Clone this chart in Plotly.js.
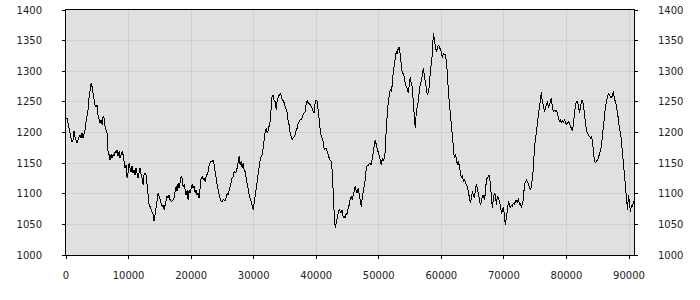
<!DOCTYPE html>
<html>
<head>
<meta charset="utf-8">
<script src="https://cdn.plot.ly/plotly-3.0.1.min.js"></script>
<style>html,body{margin:0;padding:0;background:#fff;}#chart{width:700px;height:300px;}
#chart .scatterlayer path{shape-rendering:crispEdges;}
</style>
</head>
<body>
<div id="chart"></div>
<script>
// Sample spacing along x (data units)
const xStart = 0;
const xStep = 160;

// Series values, in order, left to right
const seg1 = [1224,1223,1215,1207,1199,1191,1184,1188,1202,1193,1188,1183,1188,1193,1196,1191,1199,1191,1199,1204,1218,1226,1237,1256,1275,1280,1275,1264,1251,1245,1242,1245,1229,1218,1215,1221,1213,1226,1223,1210,1204,1199,1169,
  1164,1155,1164,1158,1164,1161,1169,1166,1172,1161,1169,1158,1164,1169,1164,1153,1142,1147,1126,1134,1150,1142,1136,1145,1134,1139,1131,1142,1136,1126,1134,1142,1131,1126,1115,1131,1134,1131,1115,1098,1082,1079,1074,1071,1066,1055,1068,1074,1088,1101,1096,1088,1085,1079,1082,1074,1082,1085,1096,1093,1098,1090,1088,1088,1090];
const seg2 = [1093,1104,1112,1104,1117,1109,1120,1128,1126,1112,
  1115,1104,1098,1106,1090,1106,1101,1109,1115,1109,
  1112,1101,1106,1098,1101,1093,1106,1126,1128,1123,
  1126,1120,1128,1134,1136,1147,1150,1153,1153,1155,
  1147,1139,1126,1115,1104,1098,1093,1087,1087,1090,
  1090,1089,1093,1101,1098,1106,1112,1123,1126,1128,
  1136,1134,1136,1142,1155,1161,1147,1153,1142,1150,
  1139,1136,1126,1115,1104,1098,1093,1085,1082,1074,
  1085,1098,1109,1120,1131,1142,1155,1161,1164,1174,
  1191,1202,1207,1199,1204,1213,1218,1240,1261,1261,
  1251,1251,1237,1253,1259,1261,1264,1261,1253,1253,
  1248,1242,1237,1232,1218];
const seg3 = [1212,1199,1194,1188,1191,1194,1196,1204,1207,1215,
  1218,1221,1221,1226,1229,1232,1234,1248,1253,1248,
  1248,1245,1242,1240,1234,1232,1251,1253,1251,1232,
  1218,1204,1194,1188,1185,1172,1174,1174,1169,1161,
  1158,1155,1153,1136,1093,1066,1045,1055,1060,1068,
  1074,1071,1068,1074,1060,1063,1060,1068,1068,1077,
  1082,1093,1096,1090,1098,1106,1112,1104,1101,1109,
  1101,1088,1079,1093,1101,1112,1123,1142,1147,1145,
  1150,1150,1147,1158,1166,1180,1188,1180,1172,1166,
  1161,1155,1147,1158,1153,1158,1169,1207,1234,1251,
  1261,1270,1267,1278,1299,1310,1318,1332,1329,1338,
  1340,1321,1305,1297,1297];
const seg4 = [1291,1278,1275,1272,1264,1275,1291,1278,1275,1248,
  1229,1207,1234,1242,1251,1267,1280,1283,1297,1305,
  1294,1283,1264,1261,1267,1275,1299,1310,1327,1362,
  1354,1340,1332,1337,1343,1340,1337,1332,1321,1329,
  1327,1327,1316,1299,1267,1248,1221,1215,1188,1166,
  1158,1164,1158,1147,1153,1145,1136,1126,1131,1120,
  1123,1117,1115,1112,1104,1093,1085,1093,1104,1098,
  1093,1106,1115,1109,1098,1085,1082,1087,1096,1098,
  1090,1101,1123,1126,1128,1131,1115,1085,1077,1093,
  1101,1098,1082,1096,1093,1087,1082,1068,1071,1079,
  1060,1049,1063,1071,1088,1082,1077,1082,1079,1085,
  1082,1088,1090,1085,1093];
const seg5 = [1082,1085,1077,1082,1090,1115,1120,1123,1120,1115,
  1112,1106,1112,1123,1142,1174,1185,1202,1215,1229,
  1245,1251,1266,1248,1245,1234,1240,1245,1251,1240,
  1245,1253,1256,1240,1234,1237,1234,1237,1229,1221,
  1218,1221,1215,1221,1215,1221,1218,1213,1215,1218,
  1215,1210,1204,1202,1215,1234,1245,1251,1251,1242,
  1232,1242,1251,1253,1245,1229,1215,1204,1199,1196,
  1194,1191,1194,1185,1169,1153,1150,1153,1155,1158,
  1166,1169,1180,1199,1218,1232,1242,1251,1256,1264,
  1261,1259,1256,1261,1267,1253,1251,1242,1234,1221,
  1204,1202,1185,1169,1147,1139,1112,1093,1074,1098,
  1077,1071,1082,1079,1088];

const yTickVals = [1000,1050,1100,1150,1200,1250,1300,1350,1400];
const xTickVals = [0,10000,20000,30000,40000,50000,60000,70000,80000,90000];

const yVals = seg1.concat(seg2, seg3, seg4, seg5);
const xVals = yVals.map((_, i) => xStart + i * xStep);

const tickFont = {family: 'DejaVu Sans, Verdana, sans-serif', size: 10, color: '#222'};

const data = [
  {x: xVals, y: yVals, type: 'scatter', mode: 'lines', line: {color: '#000', width: 1}, hoverinfo: 'none', showlegend: false},
  {x: [xVals[0]], y: [yVals[0]], yaxis: 'y2', type: 'scatter', mode: 'lines', line: {color: 'rgba(0,0,0,0)', width: 0}, hoverinfo: 'none', showlegend: false}
];

const layout = {
  width: 700, height: 300,
  margin: {l: 66, r: 66, t: 10, b: 45, pad: 0},
  paper_bgcolor: '#ffffff',
  plot_bgcolor: '#e0e0e0',
  showlegend: false,
  xaxis: {
    range: [0, 90800], tickvals: xTickVals, ticktext: xTickVals.map(String),
    ticks: 'outside', ticklen: 3, tickcolor: '#000', tickwidth: 1,
    showline: true, linecolor: '#000', linewidth: 1, mirror: true,
    showgrid: true, gridcolor: '#cfcfcf', gridwidth: 1, zeroline: false,
    tickfont: tickFont, ticklabelstandoff: 8
  },
  yaxis: {
    range: [1000, 1400], tickvals: yTickVals, ticktext: yTickVals.map(String),
    ticks: 'outside', ticklen: 3, tickcolor: '#000', tickwidth: 1,
    showline: true, linecolor: '#000', linewidth: 1,
    showgrid: true, gridcolor: '#cfcfcf', gridwidth: 1, zeroline: false,
    tickfont: tickFont, ticklabelstandoff: 18
  },
  yaxis2: {
    overlaying: 'y', side: 'right',
    range: [1000, 1400], tickvals: yTickVals, ticktext: yTickVals.map(String),
    ticks: 'outside', ticklen: 3, tickcolor: '#000', tickwidth: 1,
    showline: true, linecolor: '#000', linewidth: 1,
    showgrid: false, zeroline: false,
    tickfont: tickFont, ticklabelstandoff: 18
  }
};

Plotly.newPlot('chart', data, layout, {staticPlot: true, displayModeBar: false});
</script>
</body>
</html>
